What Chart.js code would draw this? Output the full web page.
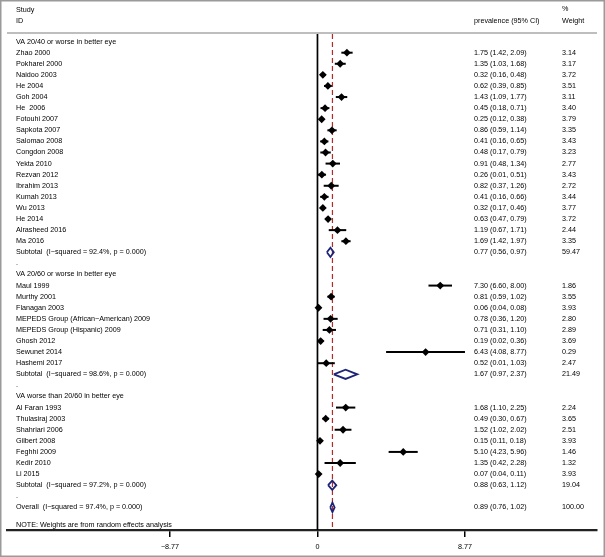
<!DOCTYPE html>
<html>
<head>
<meta charset="utf-8">
<script src="https://cdn.jsdelivr.net/npm/chart.js@4/dist/chart.umd.min.js"></script>
<style>
  html, body { margin: 0; padding: 0; background: #fff; }
  canvas { display: block; }
</style>
</head>
<body>
<canvas id="c" width="605" height="557"></canvas>
<script>
// ---------------- DATA ----------------
const groupTitles = [
  "VA 20/40 or worse in better eye",
  "VA 20/60 or worse in better eye",
  "VA worse than 20/60 in better eye"
];
const studies = [
  "Zhao 2000","Pokharel 2000","Naidoo 2003","He 2004","Goh 2004","He  2006","Fotouhi 2007",
  "Sapkota 2007","Salomao 2008","Congdon 2008","Yekta 2010","Rezvan 2012","Ibrahim 2013",
  "Kumah 2013","Wu 2013","He 2014","Alrasheed 2016","Ma 2016",
  "Maul 1999","Murthy 2001","Flanagan 2003","MEPEDS Group (African\u2212American) 2009",
  "MEPEDS Group (Hispanic) 2009","Ghosh 2012","Sewunet 2014","Hashemi 2017",
  "Al Faran 1993","Thulasiraj 2003","Shahriari 2006","Gilbert 2008","Feghhi 2009","Kedir 2010","Li 2015"
];
const studyGroup = [0,0,0,0,0,0,0,0,0,0,0,0,0,0,0,0,0,0, 1,1,1,1,1,1,1,1, 2,2,2,2,2,2,2];
const prevalence = [1.75,1.35,0.32,0.62,1.43,0.45,0.25,0.86,0.41,0.48,0.91,0.26,0.82,0.41,0.32,0.63,1.19,1.69,
                    7.30,0.81,0.06,0.78,0.71,0.19,6.43,0.52,
                    1.68,0.49,1.52,0.15,5.10,1.35,0.07];
const ciLow      = [1.42,1.03,0.16,0.39,1.09,0.18,0.12,0.59,0.16,0.17,0.48,0.01,0.37,0.16,0.17,0.47,0.67,1.42,
                    6.60,0.59,0.04,0.36,0.31,0.02,4.08,0.01,
                    1.10,0.30,1.02,0.11,4.23,0.42,0.04];
const ciHigh     = [2.09,1.68,0.48,0.85,1.77,0.71,0.38,1.14,0.65,0.79,1.34,0.51,1.26,0.66,0.46,0.79,1.71,1.97,
                    8.00,1.02,0.08,1.20,1.10,0.36,8.77,1.03,
                    2.25,0.67,2.02,0.18,5.96,2.28,0.11];
const weights    = [3.14,3.17,3.72,3.51,3.11,3.40,3.79,3.35,3.43,3.23,2.77,3.43,2.72,3.44,3.77,3.72,2.44,3.35,
                    1.86,3.55,3.93,2.80,2.89,3.69,0.29,2.47,
                    2.24,3.65,2.51,3.93,1.46,1.32,3.93];
const subtotalI2  = ["92.4%","98.6%","97.2%"];
const subtotalEst = [0.77, 1.67, 0.88];
const subtotalLow = [0.56, 0.97, 0.63];
const subtotalHigh= [0.97, 2.37, 1.12];
const subtotalWt  = [59.47, 21.49, 19.04];
const overallI2 = "97.4%";
const overallEst = 0.89;
const overallLow = 0.76;
const overallHigh = 1.02;
const overallWt = 100.00;
const xTicks = [-8.77, 0, 8.77];
const note = "NOTE: Weights are from random effects analysis";

// ---------------- ROW LAYOUT ----------------
const rows = [];
let r = 0;
for (let g = 0; g < groupTitles.length; g++) {
  rows.push({y: r++, label: groupTitles[g], kind: 'title'});
  for (let i = 0; i < studies.length; i++) {
    if (studyGroup[i] !== g) continue;
    rows.push({y: r++, label: studies[i], est: prevalence[i], lo: ciLow[i], hi: ciHigh[i], wt: weights[i], kind: 'study'});
  }
  rows.push({y: r++, label: "Subtotal  (I\u2212squared = " + subtotalI2[g] + ", p = 0.000)",
             est: subtotalEst[g], lo: subtotalLow[g], hi: subtotalHigh[g], wt: subtotalWt[g], kind: 'pooled'});
  rows.push({y: r++, label: ".", kind: 'dot'});
}
rows.push({y: r, label: "Overall  (I\u2212squared = " + overallI2 + ", p = 0.000)",
           est: overallEst, lo: overallLow, hi: overallHigh, wt: overallWt, kind: 'pooled'});
const noteRow = r + 1.6;

// ---------------- DATASETS ----------------
const datasets = [];
rows.filter(o => o.kind === 'study').forEach(o => {
  datasets.push({
    type: 'line', data: [{x: o.lo, y: o.y}, {x: o.hi, y: o.y}],
    borderColor: '#000', borderWidth: 2, pointRadius: 0, fill: false
  });
});
datasets.push({
  type: 'scatter',
  data: rows.filter(o => o.kind === 'study').map(o => ({x: o.est, y: o.y})),
  pointStyle: 'rectRot', pointRadius: 3.9, backgroundColor: '#000', borderColor: '#000', borderWidth: 0
});
const dh = 0.42;
rows.filter(o => o.kind === 'pooled').forEach(o => {
  datasets.push({
    type: 'line',
    data: [{x: o.lo, y: o.y}, {x: o.est, y: o.y - dh}, {x: o.hi, y: o.y}, {x: o.est, y: o.y + dh}, {x: o.lo, y: o.y}],
    borderColor: '#1d2477', borderWidth: 1.8, pointRadius: 0, fill: false, tension: 0
  });
});

// ---------------- PLUGINS ----------------
const fontStr = '7.2px "Liberation Sans", Arial, Helvetica, sans-serif';
const decor = {
  id: 'decor',
  beforeDatasetsDraw(chart) {
    const {ctx, chartArea, scales} = chart;
    const x = scales.x;
    ctx.save();
    ctx.strokeStyle = '#a8a8a8'; ctx.lineWidth = 1.5;
    ctx.beginPath(); ctx.moveTo(chartArea.left, chartArea.top); ctx.lineTo(chartArea.right, chartArea.top); ctx.stroke();
    ctx.strokeStyle = '#000'; ctx.lineWidth = 1.7;
    const x0 = x.getPixelForValue(0);
    ctx.beginPath(); ctx.moveTo(x0, chartArea.top + 1); ctx.lineTo(x0, chartArea.bottom); ctx.stroke();
    const xo = x.getPixelForValue(overallEst);
    ctx.strokeStyle = '#b22a2a'; ctx.lineWidth = 1.2; ctx.setLineDash([5, 3]);
    ctx.beginPath(); ctx.moveTo(xo, chartArea.top + 1); ctx.lineTo(xo, chartArea.bottom); ctx.stroke();
    ctx.restore();
  },
  afterDraw(chart) {
    const {ctx, scales} = chart;
    const y = scales.y;
    ctx.save();
    ctx.fillStyle = '#000';
    ctx.font = fontStr;
    ctx.textBaseline = 'middle';
    ctx.textAlign = 'left';
    const colLabel = 16, colEst = 474, colWt = 562;
    ctx.fillText('Study', colLabel, y.getPixelForValue(-2.85));
    ctx.fillText('ID', colLabel, y.getPixelForValue(-1.9));
    ctx.fillText('prevalence (95% CI)', colEst, y.getPixelForValue(-1.9));
    ctx.fillText('%', colWt, y.getPixelForValue(-2.95));
    ctx.fillText('Weight', colWt, y.getPixelForValue(-1.9));
    rows.forEach(o => {
      const py = y.getPixelForValue(o.y);
      ctx.fillText(o.label, colLabel, py);
      if (o.est !== undefined) {
        ctx.fillText(o.est.toFixed(2) + ' (' + o.lo.toFixed(2) + ', ' + o.hi.toFixed(2) + ')', colEst, py);
        ctx.fillText(o.wt.toFixed(2), colWt, py);
      }
    });
    ctx.fillText(note, colLabel, y.getPixelForValue(noteRow));
    ctx.strokeStyle = '#9a9a9a'; ctx.lineWidth = 1.5;
    ctx.strokeRect(0.75, 0.75, 603.5, 555.5);
    ctx.restore();
  }
};
const whiteBg = {
  id: 'whiteBg',
  beforeDraw(chart) {
    const ctx = chart.ctx;
    ctx.save(); ctx.fillStyle = '#fff'; ctx.fillRect(0, 0, chart.width, chart.height); ctx.restore();
  }
};

new Chart(document.getElementById('c'), {
  type: 'scatter',
  data: { datasets },
  options: {
    responsive: false,
    animation: false,
    devicePixelRatio: 1,
    layout: { padding: { left: 7, right: 8, top: 33, bottom: 0 } },
    plugins: { legend: { display: false }, tooltip: { enabled: false } },
    scales: {
      x: {
        type: 'linear', min: -18.46, max: 16.62,
        afterBuildTicks: s => { s.ticks = xTicks.map(v => ({value: v})); },
        afterFit: s => { s.height = 27; },
        ticks: {
          font: { family: '"Liberation Sans", Arial, sans-serif', size: 7.2 },
          color: '#000', padding: 6, maxRotation: 0, autoSkip: false,
          callback: v => v < 0 ? '\u2212' + Math.abs(v).toFixed(2) : (v === 0 ? '0' : v.toFixed(2))
        },
        grid: { display: true, drawOnChartArea: false, drawTicks: true, tickLength: 7, color: '#000', lineWidth: 1.5 },
        border: { display: true, color: '#222', width: 2.2 }
      },
      y: {
        type: 'linear', display: false, reverse: true, min: -0.775, max: 44.04
      }
    }
  },
  plugins: [whiteBg, decor]
});
</script>
</body>
</html>
